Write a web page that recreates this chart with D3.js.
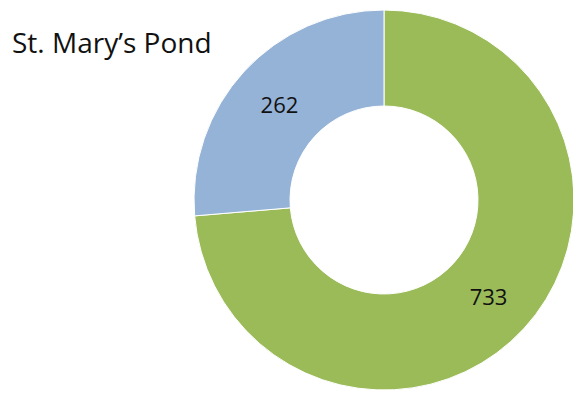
<!DOCTYPE html>
<html>
<head>
<meta charset="utf-8">
<script src="https://cdn.jsdelivr.net/npm/d3@7"></script>
<style>
  html, body { margin: 0; padding: 0; background: #fff; }
  svg { display: block; }
</style>
</head>
<body>
<svg id="chart" width="573" height="394"></svg>
<script>
// Pond counts by category
const categories = ["Green", "Blue"];
const values = [733, 262];
const colors = ["#9BBB59", "#95B3D7"];
const title = "St. Mary’s Pond";

const svg = d3.select("#chart");
const cx = 384, cy = 200, outerR = 190, innerR = 94;

const pie = d3.pie().sort(null).value(d => d.value);
const arcs = pie(categories.map((c, i) => ({ category: c, value: values[i], color: colors[i] })));

const arc = d3.arc().innerRadius(innerR).outerRadius(outerR);

const g = svg.append("g").attr("transform", `translate(${cx},${cy})`);

g.selectAll("path.slice")
  .data(arcs)
  .join("path")
  .attr("class", "slice")
  .attr("d", arc)
  .attr("fill", d => d.data.color)
  .attr("stroke", "#fff")
  .attr("stroke-width", 1);

g.selectAll("text.value")
  .data(arcs)
  .join("text")
  .attr("class", "value")
  .attr("transform", d => `translate(${arc.centroid(d)})`)
  .attr("text-anchor", "middle")
  .attr("dominant-baseline", "central")
  .attr("font-family", "'Open Sans', sans-serif")
  .attr("font-size", 22)
  .attr("fill", "#111")
  .text(d => d.data.value);

svg.append("text")
  .attr("x", 12)
  .attr("y", 53)
  .attr("font-family", "'Open Sans', sans-serif")
  .attr("font-size", 28)
  .attr("fill", "#111")
  .text(title);
</script>
</body>
</html>
